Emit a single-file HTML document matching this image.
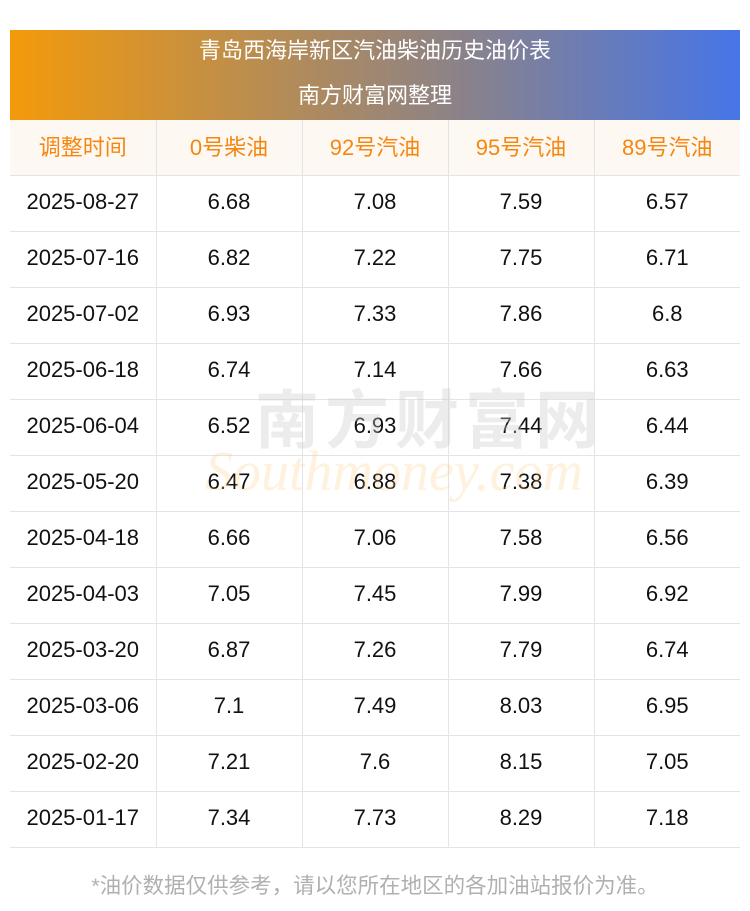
<!DOCTYPE html><html><head><meta charset="utf-8"><style>
body{margin:0;width:750px;height:911px;background:#fff;font-family:"Liberation Sans","Noto Sans CJK SC",sans-serif;position:relative;overflow:hidden}
.hd{position:absolute;left:10px;top:30px;width:730px;height:90px;background:linear-gradient(90deg,#f39a0a,#8e8385 60%,#4675e8);color:#fff;text-align:center;font-size:22px}
.hd div{height:45px;line-height:42px}
table{position:absolute;left:10px;top:120px;width:730px;border-collapse:collapse;table-layout:fixed}
td,th{height:55px;border-bottom:1px solid #e4e4e8;border-left:1px solid #e4e4e8;text-align:center;font-size:22px;font-weight:normal;color:#111;padding:0 0 3px 0;box-sizing:border-box}
td:first-child,th:first-child{border-left:none}
th{background:#fef8f3;color:#f7860f;height:55px;padding:0 0 2px 0}
td{height:56px}
.wm{position:absolute;top:370px;font-size:64px;color:rgba(200,200,200,.35);letter-spacing:6px;font-weight:bold;z-index:2;left:255px}
.wm2{position:absolute;left:205px;top:440px;font-size:56px;font-style:italic;color:rgba(250,200,120,.25);font-family:"Liberation Serif",serif;z-index:2}
.ft{position:absolute;top:869px;width:750px;text-align:center;color:#b0b0b0;font-size:21.5px}
</style></head><body>
<div class="hd"><div>青岛西海岸新区汽油柴油历史油价表</div><div>南方财富网整理</div></div>
<table>
<tr><th>调整时间</th><th>0号柴油</th><th>92号汽油</th><th>95号汽油</th><th>89号汽油</th></tr>
<tr><td>2025-08-27</td><td>6.68</td><td>7.08</td><td>7.59</td><td>6.57</td></tr>
<tr><td>2025-07-16</td><td>6.82</td><td>7.22</td><td>7.75</td><td>6.71</td></tr>
<tr><td>2025-07-02</td><td>6.93</td><td>7.33</td><td>7.86</td><td>6.8</td></tr>
<tr><td>2025-06-18</td><td>6.74</td><td>7.14</td><td>7.66</td><td>6.63</td></tr>
<tr><td>2025-06-04</td><td>6.52</td><td>6.93</td><td>7.44</td><td>6.44</td></tr>
<tr><td>2025-05-20</td><td>6.47</td><td>6.88</td><td>7.38</td><td>6.39</td></tr>
<tr><td>2025-04-18</td><td>6.66</td><td>7.06</td><td>7.58</td><td>6.56</td></tr>
<tr><td>2025-04-03</td><td>7.05</td><td>7.45</td><td>7.99</td><td>6.92</td></tr>
<tr><td>2025-03-20</td><td>6.87</td><td>7.26</td><td>7.79</td><td>6.74</td></tr>
<tr><td>2025-03-06</td><td>7.1</td><td>7.49</td><td>8.03</td><td>6.95</td></tr>
<tr><td>2025-02-20</td><td>7.21</td><td>7.6</td><td>8.15</td><td>7.05</td></tr>
<tr><td>2025-01-17</td><td>7.34</td><td>7.73</td><td>8.29</td><td>7.18</td></tr>
</table>
<div class="wm">南方财富网</div>
<div class="wm2">Southmoney.com</div>
<div class="ft">*油价数据仅供参考，请以您所在地区的各加油站报价为准。</div>
</body></html>
